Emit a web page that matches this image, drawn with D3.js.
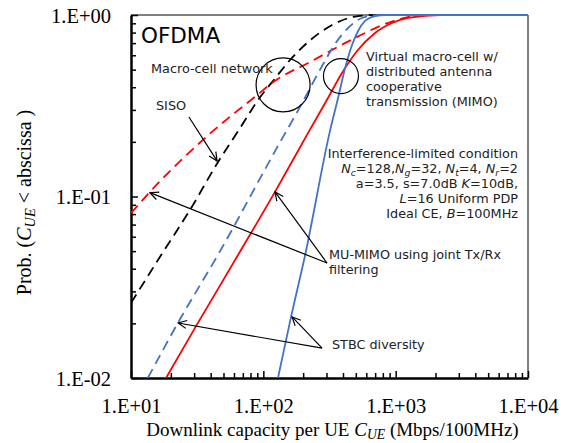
<!DOCTYPE html>
<html><head><meta charset="utf-8">
<script src="https://cdn.jsdelivr.net/npm/d3@7"></script>
<style>body{margin:0;background:#fff}svg{display:block}</style>
</head><body><svg id="c" width="561" height="443"></svg>
<script>
// ---- data (capacity Mbps/100MHz, probability) ----
const xTickValues = [10, 100, 1000, 10000];
const xTickLabels = ["1.E+01", "1.E+02", "1.E+03", "1.E+04"];
const yTickValues = [0.01, 0.1, 1];
const yTickLabels = ["1.E-02", "1.E-01", "1.E+00"];

const macroSISO = [[10,0.0259],[16.9,0.0476],[27.9,0.0843],[45.5,0.155],[66.7,0.238],[91.2,0.340],[125,0.455],[159,0.565],[218,0.710],[331,0.881],[520,0.987],[698,1],[10000,1]];
const macroMUMIMO = [[10,0.081],[13.9,0.106],[40.9,0.227],[88,0.358],[122,0.433],[218,0.544],[493,0.747],[832,0.892],[1403,0.987],[2150,1],[10000,1]];
const macroSTBC = [[13.4,0.01],[22.6,0.0201],[46.3,0.0489],[129,0.190],[189,0.311],[278,0.524],[348,0.692],[437,0.848],[557,0.963],[736,1],[10000,1]];
const virtualMUMIMO = [[18.4,0.01],[31,0.0193],[64.4,0.0476],[122.5,0.106],[218,0.224],[308,0.349],[393,0.479],[511,0.633],[698,0.796],[939,0.903],[1241,0.963],[2170,1],[10000,1]];
const virtualSTBC = [[129,0.01],[162,0.0217],[207,0.0476],[319,0.23],[367,0.349],[415,0.51],[468,0.683],[520,0.816],[587,0.927],[698,0.987],[830,1],[10000,1]];

const series = [
  {data: macroSISO, color: "#000000", dash: "10,6"},
  {data: macroMUMIMO, color: "#ff0000", dash: "10,6"},
  {data: macroSTBC, color: "#4472c4", dash: "10,6"},
  {data: virtualMUMIMO, color: "#ff0000", dash: null},
  {data: virtualSTBC, color: "#4472c4", dash: null}
];

// ---- layout ----
const L = 131, R = 528, T = 15, B = 378;
const svg = d3.select("#c");
const x = d3.scaleLog().domain([10, 10000]).range([L, R]);
const y = d3.scaleLog().domain([0.01, 1]).range([B, T]);

svg.append("defs").append("clipPath").attr("id", "clip")
  .append("rect").attr("x", L).attr("y", T - 1).attr("width", R - L).attr("height", B - T + 1);
const mk = svg.select("defs").append("marker").attr("id", "ah")
  .attr("viewBox", "-10 -6 12 12").attr("refX", 0).attr("refY", 0)
  .attr("markerWidth", 12).attr("markerHeight", 12).attr("markerUnits", "userSpaceOnUse").attr("orient", "auto");
mk.append("path").attr("d", "M-8.5,-4 L0,0 L-8.5,4").attr("fill", "none").attr("stroke", "#000").attr("stroke-width", 1.2);

// frame top/right
svg.append("line").attr("x1", L).attr("x2", R).attr("y1", T).attr("y2", T).attr("stroke", "#000").attr("stroke-width", 1);
svg.append("line").attr("x1", R).attr("x2", R).attr("y1", T).attr("y2", B).attr("stroke", "#000").attr("stroke-width", 1);

// minor ticks
const minorX = [], minorY = [];
[10, 100, 1000].forEach(d => { for (let k = 2; k <= 9; k++) minorX.push(d * k); });
[0.01, 0.1].forEach(d => { for (let k = 2; k <= 9; k++) minorY.push(+(d * k).toFixed(3)); });

const axL = svg.append("g").attr("transform", `translate(${L},0)`)
  .call(d3.axisLeft(y).tickValues(minorY).tickSize(-5).tickSizeOuter(0).tickFormat(""));
axL.select(".domain").remove();
const axLm = svg.append("g").attr("transform", `translate(${L},0)`)
  .call(d3.axisLeft(y).tickValues(yTickValues).tickSize(-7).tickSizeOuter(0).tickPadding(20)
    .tickFormat((d, i) => yTickLabels[i]));
axLm.select(".domain").attr("stroke-width", 2.5);

const axB = svg.append("g").attr("transform", `translate(0,${B})`)
  .call(d3.axisBottom(x).tickValues(minorX).tickSize(-5).tickSizeOuter(0).tickFormat(""));
axB.select(".domain").remove();
const axBm = svg.append("g").attr("transform", `translate(0,${B})`)
  .call(d3.axisBottom(x).tickValues(xTickValues).tickSize(-7).tickSizeOuter(0).tickPadding(20)
    .tickFormat((d, i) => xTickLabels[i]));
axBm.select(".domain").attr("stroke-width", 2.5);

svg.selectAll(".tick line").attr("stroke-width", 1.5);
svg.selectAll(".tick text").attr("font-family", "Liberation Serif").attr("font-size", 20.5).attr("fill", "#000");
axLm.selectAll(".tick text").attr("dy", "0.36em");

// curves
const line = d3.line().x(d => x(d[0])).y(d => y(d[1])).curve(d3.curveMonotoneX);
const gC = svg.append("g").attr("clip-path", "url(#clip)");
series.forEach(s => {
  gC.append("path").attr("d", line(s.data)).attr("fill", "none")
    .attr("stroke", s.color).attr("stroke-width", 1.8)
    .attr("stroke-dasharray", s.dash);
});

// annotations (data coords)
const arrows = [
  [[27.4, 0.274], [44.7, 0.157]],
  [[303, 0.043], [13.9, 0.105]],
  [[303, 0.043], [122.5, 0.106]],
  [[278, 0.0146], [22.7, 0.0201]],
  [[278, 0.0146], [165, 0.0217]]
];
arrows.forEach(a => {
  svg.append("line").attr("x1", x(a[0][0])).attr("y1", y(a[0][1]))
    .attr("x2", x(a[1][0])).attr("y2", y(a[1][1]))
    .attr("stroke", "#000").attr("stroke-width", 1.2).attr("marker-end", "url(#ah)");
});
const circles = [[[141, 0.412], 27], [[386, 0.461], 17.5]];
circles.forEach(c => {
  svg.append("circle").attr("cx", x(c[0][0])).attr("cy", y(c[0][1])).attr("r", c[1])
    .attr("fill", "none").attr("stroke", "#000").attr("stroke-width", 1.2);
});

// texts
const sans = "DejaVu Sans";
const fs = 12.8, tc = "#222";
function txt(xp, yp, str, opts = {}) {
  return svg.append("text").attr("x", xp).attr("y", yp).attr("font-family", opts.ff || sans)
    .attr("font-size", opts.size || fs).attr("fill", opts.fill || tc)
    .attr("text-anchor", opts.anchor || "start").text(str);
}
txt(141, 43, "OFDMA", {size: 21.5, fill: "#000"});
txt(151, 73, "Macro-cell network");
txt(156, 110, "SISO");
["Virtual macro-cell w/", "distributed antenna", "cooperative", "transmission (MIMO)"]
  .forEach((s, i) => txt(366, 61 + 15 * i, s));
txt(329, 259, "MU-MIMO using joint Tx/Rx");
txt(329, 274, "filtering");
txt(332, 349, "STBC diversity");

// rich text helper: parts [text, flags] flags: i=italic, s=subscript
function rich(t, parts, size, shift) {
  let down = false;
  parts.forEach(p => {
    const f = p[1] || "";
    const ts = t.append("tspan").text(p[0]);
    if (f.includes("i")) ts.attr("font-style", "italic");
    if (f.includes("s")) {
      ts.attr("font-size", size * 0.72);
      if (!down) { ts.attr("dy", shift); down = true; }
    } else if (down) { ts.attr("dy", -shift); down = false; }
  });
}

const block = [
  [["Interference-limited condition"]],
  [["N", "i"], ["c", "is"], ["=128,"], ["N", "i"], ["g", "is"], ["=32, "], ["N", "i"], ["t", "is"], ["=4, "], ["N", "i"], ["r", "is"], ["=2"]],
  [["a=3.5, s=7.0dB "], ["K", "i"], ["=10dB,"]],
  [["L", "i"], ["=16 Uniform PDP"]],
  [["Ideal CE, "], ["B", "i"], ["=100MHz"]]
];
block.forEach((parts, i) => {
  const t = svg.append("text").attr("x", 518).attr("y", 158 + 15 * i).attr("text-anchor", "end")
    .attr("font-family", sans).attr("font-size", fs).attr("fill", tc);
  rich(t, parts, fs, 2.5);
});

// axis titles
const serif = "Liberation Serif";
const xt = svg.append("text").attr("x", (L + R) / 2 + 3).attr("y", 436).attr("text-anchor", "middle")
  .attr("font-family", serif).attr("font-size", 19).attr("fill", "#000");
rich(xt, [["Downlink capacity per UE "], ["C", "i"], ["UE", "is"], [" (Mbps/100MHz)"]], 19, 3);

const yt = svg.append("text").attr("transform", `translate(31,${(T + B) / 2 + 6}) rotate(-90)`).attr("text-anchor", "middle")
  .attr("font-family", serif).attr("font-size", 20).attr("fill", "#000");
rich(yt, [["Prob. ("], ["C", "i"], ["UE", "is"], [" < abscissa )"]], 20, 3.5);
</script></body></html>
